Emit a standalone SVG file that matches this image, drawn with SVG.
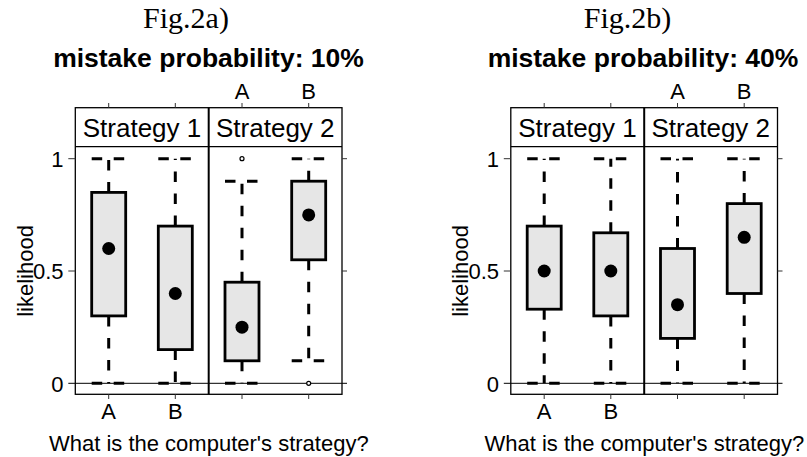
<svg xmlns="http://www.w3.org/2000/svg" width="807" height="457" viewBox="0 0 807 457">
<style>
text{font-family:"Liberation Sans",Arial,sans-serif;fill:#000}
.fig{font-family:"Liberation Serif","Times New Roman",serif;font-size:30px;text-anchor:middle}
.ttl{font-weight:bold;font-size:26.5px;text-anchor:middle}
.strip{font-size:26px;text-anchor:middle}
.ax{font-size:22px;text-anchor:middle}
.yt{font-size:22px;text-anchor:end}
.frame{fill:none;stroke:#000;stroke-width:1.3}
.div{stroke:#000;stroke-width:2}
.tick{stroke:#333;stroke-width:1}
.zero{stroke:#000;stroke-width:1}
.box{fill:#e6e6e6;stroke:#000;stroke-width:2.8}
.wh{fill:none;stroke:#000;stroke-width:3;stroke-dasharray:10.5 11.5}
.med{fill:#000}
.out{fill:#fff;stroke:#000;stroke-width:1.2}
</style>
<defs>
<g id="frame">
<rect class="frame" x="75.3" y="107.7" width="266.7" height="286.6"/>
<line class="frame" x1="75.3" y1="146.7" x2="342" y2="146.7"/>
<line class="div" x1="208.7" y1="107.7" x2="208.7" y2="394.3"/>
<g class="tick">
<line x1="68.3" y1="158.7" x2="75.3" y2="158.7"/>
<line x1="68.3" y1="271" x2="75.3" y2="271"/>
<line x1="342" y1="158.7" x2="347" y2="158.7"/>
<line x1="342" y1="271" x2="347" y2="271"/>
<line x1="108.7" y1="103" x2="108.7" y2="107.7"/>
<line x1="175.3" y1="103" x2="175.3" y2="107.7"/>
<line x1="242" y1="103" x2="242" y2="107.7"/>
<line x1="308.7" y1="103" x2="308.7" y2="107.7"/>
<line x1="108.7" y1="394.3" x2="108.7" y2="399"/>
<line x1="175.3" y1="394.3" x2="175.3" y2="399"/>
<line x1="242" y1="394.3" x2="242" y2="399"/>
<line x1="308.7" y1="394.3" x2="308.7" y2="399"/>
</g>
<line class="zero" x1="68.3" y1="383.3" x2="347" y2="383.3"/>
<text class="strip" x="142" y="137">Strategy 1</text>
<text class="strip" x="275.3" y="137">Strategy 2</text>
<text class="ax" x="242" y="99">A</text>
<text class="ax" x="308.7" y="99">B</text>
<text class="ax" x="108.7" y="419">A</text>
<text class="ax" x="175.3" y="419">B</text>
<text class="yt" x="63.5" y="166.7">1</text>
<text class="yt" x="63.5" y="279">0.5</text>
<text class="yt" x="63.5" y="391.5">0</text>
<text class="ax" x="208.8" y="450.7">What is the computer's strategy?</text>
<text class="ax" transform="translate(32.5,271) rotate(-90)">likelihood</text>
</g>
</defs>

<g id="panel-a">
<text class="fig" x="186" y="28">Fig.2a)</text>
<text class="ttl" x="208.5" y="66.5">mistake probability: 10%</text>
<use href="#frame"/>
<g id="a-s1-A">
<path class="wh" d="M108.7 192.4V158.7M91.7 158.7H125.7M108.7 315.9V383.3M91.7 383.3H125.7"/>
<rect class="box" x="91.7" y="192.4" width="34" height="123.5"/>
<circle class="med" cx="108.7" cy="248.5" r="6.5"/>
</g>
<g id="a-s1-B">
<path class="wh" d="M175.3 226.1V158.7M158.3 158.7H192.3M175.3 349.6V383.3M158.3 383.3H192.3"/>
<rect class="box" x="158.3" y="226.1" width="34" height="123.5"/>
<circle class="med" cx="175.3" cy="293.5" r="6.5"/>
</g>
<g id="a-s2-A">
<path class="wh" d="M242 282.2V181.2M225 181.2H259M242 360.8V383.3M225 383.3H259"/>
<rect class="box" x="225" y="282.2" width="34" height="78.6"/>
<circle class="med" cx="242" cy="327.2" r="6.5"/>
<circle class="out" cx="242" cy="158.7" r="2"/>
</g>
<g id="a-s2-B">
<path class="wh" d="M308.7 181.2V158.7M291.7 158.7H325.7M308.7 259.8V360.8M291.7 360.8H325.7"/>
<rect class="box" x="291.7" y="181.2" width="34" height="78.6"/>
<circle class="med" cx="308.7" cy="214.9" r="6.5"/>
<circle class="out" cx="308.7" cy="383.3" r="2"/>
</g>
</g>

<g id="panel-b">
<text class="fig" x="627.5" y="28">Fig.2b)</text>
<text class="ttl" x="643" y="66.5">mistake probability: 40%</text>
<use href="#frame" transform="translate(435.5,0)"/>
<g transform="translate(435.5,0)">
<g id="b-s1-A">
<path class="wh" d="M108.7 226.1V158.7M91.7 158.7H125.7M108.7 309.2V383.3M91.7 383.3H125.7"/>
<rect class="box" x="91.7" y="226.1" width="34" height="83.1"/>
<circle class="med" cx="108.7" cy="271" r="6.5"/>
</g>
<g id="b-s1-B">
<path class="wh" d="M175.3 232.8V158.7M158.3 158.7H192.3M175.3 315.9V383.3M158.3 383.3H192.3"/>
<rect class="box" x="158.3" y="232.8" width="34" height="83.1"/>
<circle class="med" cx="175.3" cy="271" r="6.5"/>
</g>
<g id="b-s2-A">
<path class="wh" d="M242 248.5V158.7M225 158.7H259M242 338.4V383.3M225 383.3H259"/>
<rect class="box" x="225" y="248.5" width="34" height="89.9"/>
<circle class="med" cx="242" cy="304.7" r="6.5"/>
</g>
<g id="b-s2-B">
<path class="wh" d="M308.7 203.6V158.7M291.7 158.7H325.7M308.7 293.5V383.3M291.7 383.3H325.7"/>
<rect class="box" x="291.7" y="203.6" width="34" height="89.9"/>
<circle class="med" cx="308.7" cy="237.3" r="6.5"/>
</g>
</g>
</g>
</svg>
